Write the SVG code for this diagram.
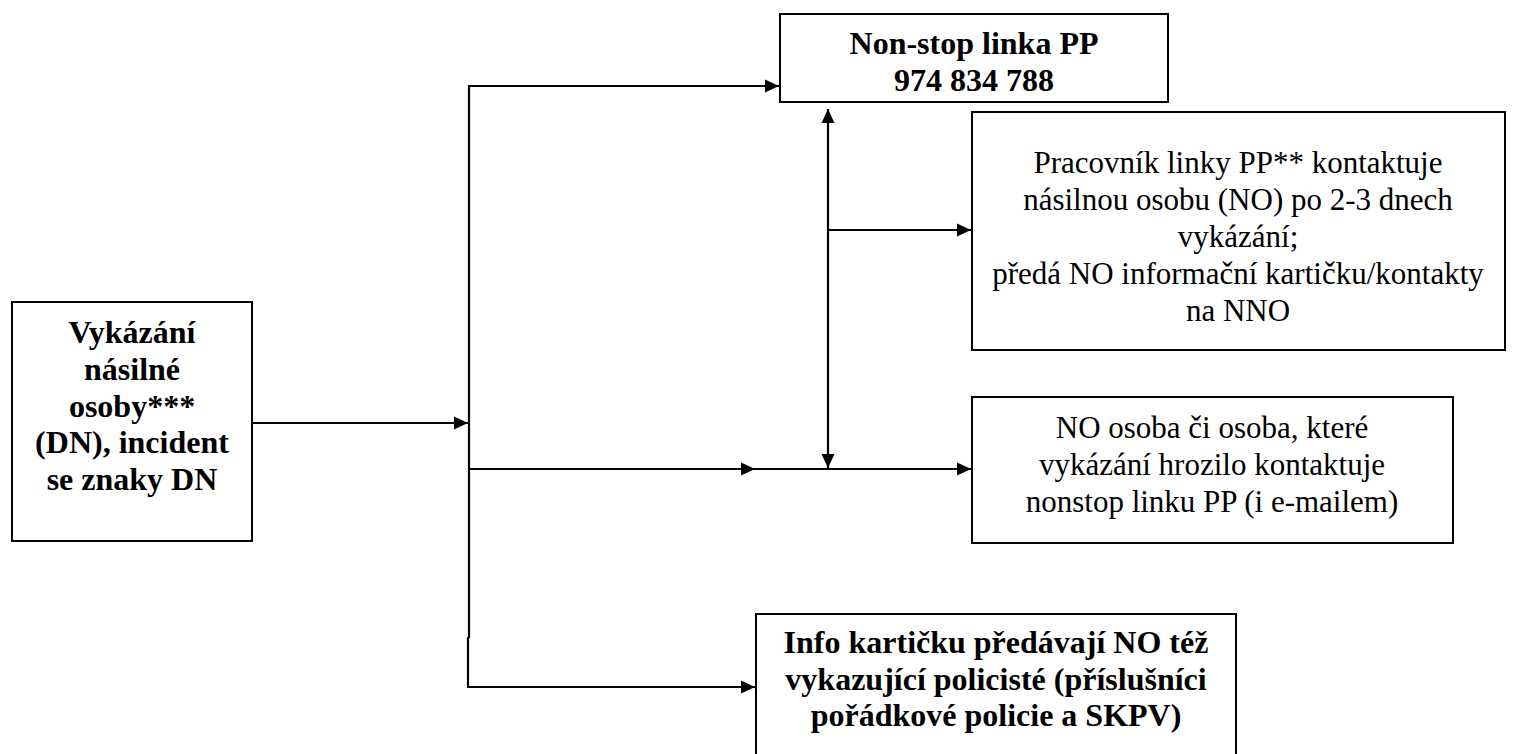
<svg xmlns="http://www.w3.org/2000/svg" width="1515" height="754" viewBox="0 0 1515 754">
<defs>
<marker id="ah" markerUnits="userSpaceOnUse" markerWidth="15" markerHeight="14" refX="14" refY="7" orient="auto">
<path d="M0,0.5 L14,7 L0,13.5 z" fill="#000"/>
</marker>
<style>
.box{fill:#fff;stroke:#000;stroke-width:2}
.ln{fill:none;stroke:#000;stroke-width:2.2}
.b{font-family:"Liberation Serif","Times New Roman",serif;font-weight:bold;font-size:32px;text-anchor:middle;fill:#000}
.r{font-family:"Liberation Serif","Times New Roman",serif;font-size:31px;text-anchor:middle;fill:#000}
</style>
</defs>
<rect width="1515" height="754" fill="#fff"/>
<g id="connectors">
<line class="ln" x1="253" y1="423" x2="468" y2="423" marker-end="url(#ah)"/>
<line class="ln" x1="469" y1="85" x2="469" y2="637"/>
<line class="ln" x1="468" y1="637" x2="468" y2="688"/>
<line class="ln" x1="468" y1="637" x2="470" y2="637"/>
<line class="ln" x1="468" y1="86" x2="779" y2="86" marker-end="url(#ah)"/>
<line class="ln" x1="468" y1="469" x2="755" y2="469" marker-end="url(#ah)"/>
<line class="ln" x1="755" y1="469" x2="971" y2="469" marker-end="url(#ah)"/>
<line class="ln" x1="828" y1="230" x2="971" y2="230" marker-end="url(#ah)"/>
<line class="ln" x1="828" y1="300" x2="828" y2="109" marker-end="url(#ah)"/>
<line class="ln" x1="828" y1="300" x2="828" y2="468" marker-end="url(#ah)"/>
<line class="ln" x1="468" y1="687" x2="755" y2="687" marker-end="url(#ah)"/>
</g>
<g id="n-vykazani">
<rect class="box" x="12" y="302" width="240" height="239"/>
<text class="b" x="132" y="343">Vykázání</text>
<text class="b" x="132" y="380">násilné</text>
<text class="b" x="132" y="417">osoby***</text>
<text class="b" x="132" y="453">(DN), incident</text>
<text class="b" x="132" y="490">se znaky DN</text>
</g>
<g id="n-nonstop">
<rect class="box" x="780" y="14" width="388" height="88"/>
<text class="b" x="974" y="54">Non-stop linka PP</text>
<text class="b" x="974" y="91">974 834 788</text>
</g>
<g id="n-pracovnik">
<rect class="box" x="972" y="112" width="533" height="238"/>
<text class="r" x="1238" y="173">Pracovník linky PP** kontaktuje</text>
<text class="r" x="1238" y="210">násilnou osobu (NO) po 2-3 dnech</text>
<text class="r" x="1238" y="247">vykázání;</text>
<text class="r" x="1238" y="284">předá NO informační kartičku/kontakty</text>
<text class="r" x="1238" y="321">na NNO</text>
</g>
<g id="n-no-osoba">
<rect class="box" x="972" y="397" width="481" height="146"/>
<text class="r" x="1212" y="438">NO osoba či osoba, které</text>
<text class="r" x="1212" y="475">vykázání hrozilo kontaktuje</text>
<text class="r" x="1212" y="512">nonstop linku PP (i e-mailem)</text>
</g>
<g id="n-info">
<rect class="box" x="756" y="614" width="480" height="150"/>
<text class="b" x="996" y="653">Info kartičku předávají NO též</text>
<text class="b" x="996" y="690">vykazující policisté (příslušníci</text>
<text class="b" x="996" y="726">pořádkové policie a SKPV)</text>
</g>
</svg>
